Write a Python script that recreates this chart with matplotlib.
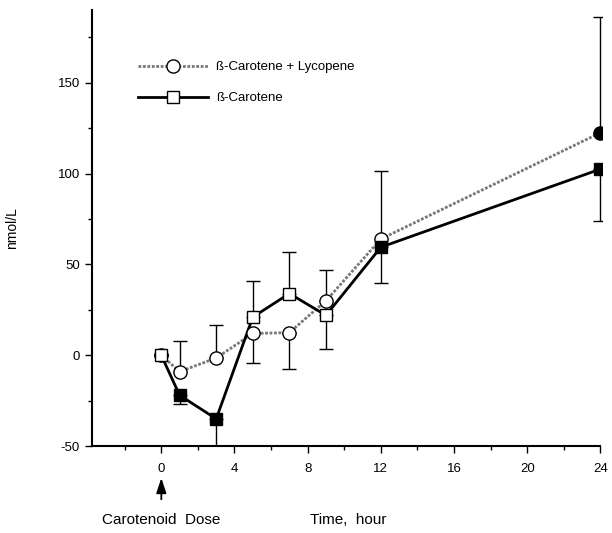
import numpy as np
import matplotlib.pyplot as plt
from matplotlib.lines import Line2D
from matplotlib.ticker import MultipleLocator

plt.rcParams['font.family'] = ['Liberation Sans', 'DejaVu Sans']
plt.rcParams['axes.unicode_minus'] = False

# time after dose, hours
hours = [0, 1, 3, 5, 7, 9, 12, 24]

# beta-carotene + lycopene group
lyc_mean = [0, -9, -1.5, 12, 12.5, 30, 64, 122.5]
lyc_err_lo = [0, 0, 0, 16.5, 20, 0, 0, 0]
lyc_err_hi = [0, 17, 18, 0, 0, 17, 37.5, 63.5]
lyc_filled = [False, False, False, False, False, False, False, True]

# beta-carotene only group
bc_mean = [0, -22, -35, 21, 34, 22, 59.5, 102.5]
bc_err_lo = [0, 5, 20, 0, 0, 18.5, 19.5, 28.5]
bc_err_hi = [0, 0, 0, 20, 23, 0, 0, 0]
bc_filled = [False, True, True, False, False, False, True, True]

xticks = [0, 4, 8, 12, 16, 20, 24]
yticks = [-50, 0, 50, 100, 150]

fig = plt.figure(figsize=(6.12, 5.33), dpi=100)
ax = fig.add_axes([0.150, 0.163, 0.834, 0.818])

dot_style = (0, (1, 0.6))

# error bars first, markers drawn over them
ax.errorbar(hours, lyc_mean, yerr=[lyc_err_lo, lyc_err_hi], fmt='none',
            ecolor='black', elinewidth=1, capsize=5, capthick=1, zorder=1)
ax.errorbar(hours, bc_mean, yerr=[bc_err_lo, bc_err_hi], fmt='none',
            ecolor='black', elinewidth=1, capsize=5, capthick=1, zorder=1)

ax.plot(hours, lyc_mean, color='#777777', linestyle=dot_style, linewidth=2, zorder=2)
ax.plot(hours, bc_mean, color='black', linewidth=2, zorder=2)

for x, y, f in zip(hours, lyc_mean, lyc_filled):
    ax.plot(x, y, 'o', markersize=9.5, markeredgecolor='black', markeredgewidth=1,
            markerfacecolor='black' if f else 'white', zorder=4)
for x, y, f in zip(hours, bc_mean, bc_filled):
    ax.plot(x, y, 's', markersize=9, markeredgecolor='black', markeredgewidth=1,
            markerfacecolor='black' if f else 'white', zorder=4)

ax.set_xlim(-3.8, 24.1)
ax.set_ylim(-50, 190)
ax.set_xticks(xticks)
ax.set_yticks(yticks)
ax.xaxis.set_minor_locator(MultipleLocator(2))
ax.yaxis.set_minor_locator(MultipleLocator(25))
ax.tick_params(axis='both', which='major', length=5, width=1, labelsize=9.5, direction='out')
ax.tick_params(axis='both', which='minor', length=3, width=1, direction='out')
ax.tick_params(axis='x', pad=7)

for side in ['top', 'right']:
    ax.spines[side].set_visible(False)
for side in ['left', 'bottom']:
    ax.spines[side].set_linewidth(1.5)
ax.spines['bottom'].set_bounds(-3.8, 24)

ax.set_ylabel('nmol/L', fontsize=10, labelpad=28)

handles = [
    Line2D([], [], color='#777777', linestyle=dot_style, linewidth=2, marker='o',
           markersize=9.5, markerfacecolor='white', markeredgecolor='black'),
    Line2D([], [], color='black', linewidth=2, marker='s', markersize=9,
           markerfacecolor='white', markeredgecolor='black'),
]
ax.legend(handles, ['ß-Carotene + Lycopene', 'ß-Carotene'], loc='upper left',
          bbox_to_anchor=(0.067, 0.91), frameon=False, fontsize=9.5,
          handlelength=5.3, handletextpad=0.6, labelspacing=1.4)

# dose arrow under time zero
ax.annotate('', xy=(0, -0.073), xycoords=('data', 'axes fraction'),
            xytext=(0, -0.122), textcoords=('data', 'axes fraction'),
            arrowprops=dict(arrowstyle='-|>,head_width=0.3,head_length=0.9',
                            color='black', linewidth=1.3, shrinkA=0, shrinkB=0))
ax.text(0, -0.17, 'Carotenoid  Dose', transform=ax.get_xaxis_transform(),
        ha='center', va='center', fontsize=11)
ax.text(10.2, -0.17, 'Time,  hour', transform=ax.get_xaxis_transform(),
        ha='center', va='center', fontsize=11)

fig.savefig('out.png', dpi=100)
